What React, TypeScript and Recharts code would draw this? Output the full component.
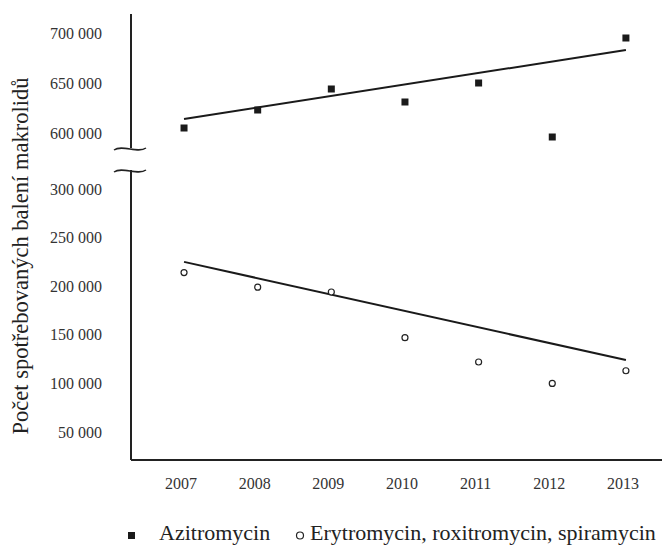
import React from "react";
import { ComposedChart, Scatter, Line, XAxis, YAxis } from "recharts";

const years = [2007, 2008, 2009, 2010, 2011, 2012, 2013];
const azitromycin = [605000, 623000, 644000, 631000, 650000, 596000, 695000];
const erytromycin = [214000, 199000, 194000, 147000, 122000, 100000, 113000];
// trend lines, endpoints
const trendYears = [2007, 2013];
const azitroTrend = [614000, 683000];
const erytroTrend = [225000, 124000];

const topTicks = [600000, 650000, 700000];
const bottomTicks = [50000, 100000, 150000, 200000, 250000, 300000];

const FONT = "'Liberation Serif', 'Times New Roman', serif";

const azitroData = years.map((year, i) => ({ year, value: azitromycin[i] }));
const erytroData = years.map((year, i) => ({ year, value: erytromycin[i] }));
const azitroTrendData = trendYears.map((year, i) => ({ year, value: azitroTrend[i] }));
const erytroTrendData = trendYears.map((year, i) => ({ year, value: erytroTrend[i] }));

const fmt = (v: number) => String(v).replace(/\B(?=(\d{3})+(?!\d))/g, " ");

const xDomain: [number, number] = [2006.28, 2013.49];
const axisLine = { stroke: "#222", strokeWidth: 2 };
const tickStyle = { fontFamily: FONT, fontSize: 16, fill: "#333" };

const SquareDot = (props: any) => (
  <rect x={props.cx - 3.5} y={props.cy - 3.5} width={7} height={7} fill="#1a1a1a" />
);
const CircleDot = (props: any) => (
  <circle cx={props.cx} cy={props.cy} r={3} fill="#fff" stroke="#222" strokeWidth={1.2} />
);

export default function App() {
  return (
    <div style={{ position: "absolute", left: 0, top: 0, width: 668, height: 546, background: "#fff" }}>
      <div style={{ position: "absolute", left: 0, top: 0 }}>
        <ComposedChart width={668} height={150} margin={{ top: 14, right: 6, bottom: 2, left: 0 }}>
          <XAxis type="number" dataKey="year" domain={xDomain} hide allowDataOverflow />
          <YAxis
            type="number"
            domain={[585000, 719000]}
            ticks={topTicks}
            width={131}
            tickFormatter={fmt}
            tickLine={false}
            tickSize={0}
            tickMargin={29}
            axisLine={axisLine}
            tick={tickStyle}
            allowDataOverflow
          />
          <Line data={azitroTrendData} dataKey="value" stroke="#1a1a1a" strokeWidth={2} dot={false} isAnimationActive={false} />
          <Scatter data={azitroData} dataKey="value" shape={SquareDot} isAnimationActive={false} />
        </ComposedChart>
      </div>
      <div style={{ position: "absolute", left: 0, top: 150 }}>
        <ComposedChart width={668} height={396} margin={{ top: 20, right: 6, bottom: 46, left: 0 }}>
          <XAxis
            type="number"
            dataKey="year"
            domain={xDomain}
            ticks={years}
            height={40}
            tickLine={false}
            tickSize={0}
            tickMargin={18}
            axisLine={axisLine}
            tick={{ ...tickStyle, dx: -3 }}
            allowDataOverflow
          />
          <YAxis
            type="number"
            domain={[21200, 319500]}
            ticks={bottomTicks}
            width={131}
            tickFormatter={fmt}
            tickLine={false}
            tickSize={0}
            tickMargin={29}
            axisLine={axisLine}
            tick={tickStyle}
            allowDataOverflow
          />
          <Line data={erytroTrendData} dataKey="value" stroke="#1a1a1a" strokeWidth={2} dot={false} isAnimationActive={false} />
          <Scatter data={erytroData} dataKey="value" shape={CircleDot} isAnimationActive={false} />
        </ComposedChart>
      </div>
      <svg width={668} height={546} style={{ position: "absolute", left: 0, top: 0, pointerEvents: "none" }}>
        {/* axis break marks */}
        <path d="M114,150 C122,144 138,154 146,148" fill="none" stroke="#222" strokeWidth={1.5} />
        <path d="M114,172 C122,166 138,176 146,170" fill="none" stroke="#222" strokeWidth={1.5} />
        <text
          transform="translate(28,256) rotate(-90)"
          textAnchor="middle"
          fontFamily={FONT}
          fontSize={22.5}
          fill="#222"
        >
          Počet spotřebovaných balení makrolidů
        </text>
        <rect x={128} y={532} width={7} height={7} fill="#1a1a1a" />
        <text x={159} y={540} fontFamily={FONT} fontSize={22} fill="#222">
          Azitromycin
        </text>
        <circle cx={300} cy={535.5} r={3.5} fill="#fff" stroke="#222" strokeWidth={1.2} />
        <text x={310} y={540} fontFamily={FONT} fontSize={22} fill="#222">
          Erytromycin, roxitromycin, spiramycin
        </text>
      </svg>
    </div>
  );
}
